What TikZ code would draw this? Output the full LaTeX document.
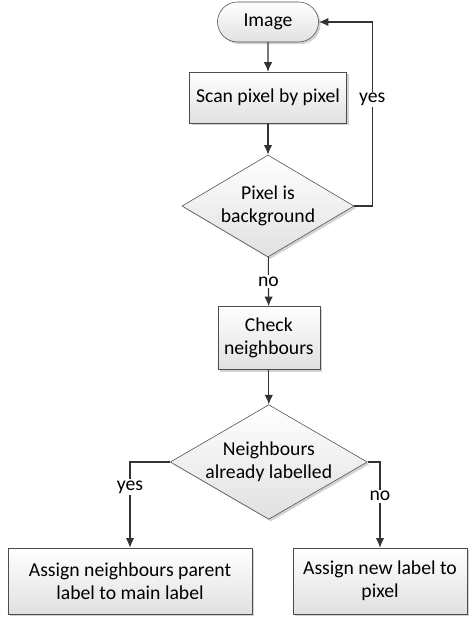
\documentclass[tikz,border=0pt]{standalone}
\usepackage{fontspec}
\setmainfont{Carlito}
\usetikzlibrary{shapes.geometric,shapes.misc,shadows,arrows.meta}

\tikzset{
    >={Latex[length=2.4mm,width=2.1mm]},
    boxfill/.style={draw=black!70, thin, top color=white, bottom color=black!12,
        drop shadow={shadow xshift=1.5pt, shadow yshift=-1.5pt, fill=black!35},
        font=\fontsize{14}{16.5}\selectfont, align=center, inner sep=0pt},
    stepbox/.style={boxfill, rectangle},
    termbox/.style={boxfill, rounded rectangle},
    decision/.style={boxfill, diamond, aspect=1.7},
    flow/.style={draw=black!80, thick, ->},
    tag/.style={fill=white, font=\fontsize{14}{16.5}\selectfont, inner sep=1pt}
}

\begin{document}
\begin{tikzpicture}
    \useasboundingbox (0,0) rectangle (11.85,-15.475);

    \node[termbox, minimum width=2.525cm, minimum height=1cm] (img) at (6.7,-0.55) {Image};
    \node[stepbox, minimum width=3.925cm, minimum height=1.275cm] (scan) at (6.7,-2.44) {Scan pixel by pixel};
    \node[decision, minimum width=4.3cm, minimum height=2.55cm] (bg) at (6.7,-5.15) {Pixel is\\background};
    \node[stepbox, minimum width=2.55cm, minimum height=1.575cm] (check) at (6.72,-8.45) {Check\\neighbours};
    \node[decision, minimum width=4.925cm, minimum height=2.85cm] (lab) at (6.72,-11.55) {Neighbours\\already labelled};
    \node[stepbox, minimum width=6.1cm, minimum height=1.65cm] (parent) at (3.25,-14.525) {Assign neighbours parent\\label to main label};
    \node[stepbox, minimum width=4.35cm, minimum height=1.65cm] (new) at (9.5,-14.525) {Assign new label to\\pixel};

    % main line
    \draw[flow] (img) -- (scan);
    \draw[flow] (scan) -- (bg);
    \draw[flow] (bg) -- node[tag] {no} (check);
    \draw[flow] (check) -- (lab);

    % loop back and branches
    \draw[flow] (bg.east) -- ++(0.45,0) |- node[tag, pos=0.29] {yes} (img.east);
    \draw[flow] (lab.west) -| node[tag, pos=0.645] {yes} (parent.north);
    \draw[flow] (lab.east) -| node[tag, pos=0.7] {no} (new.north);
\end{tikzpicture}
\end{document}
